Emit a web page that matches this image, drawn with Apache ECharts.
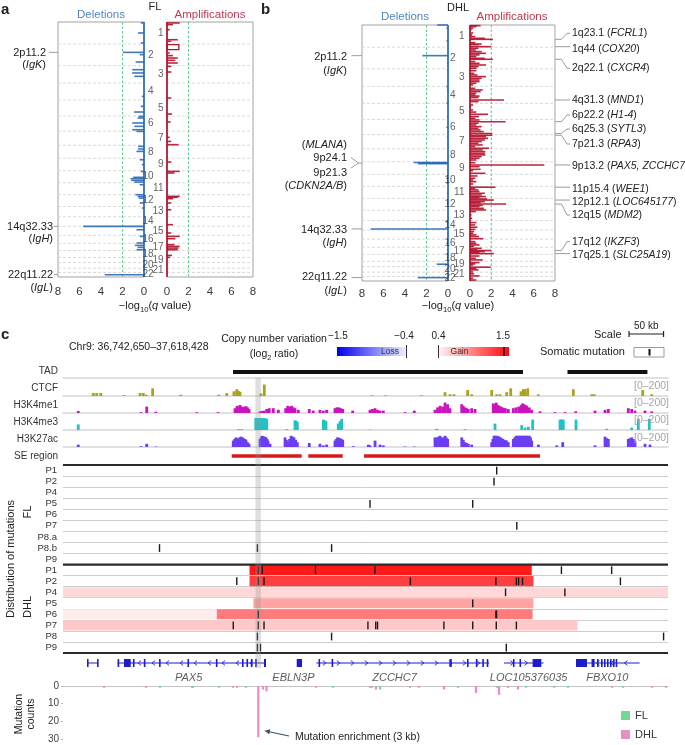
<!DOCTYPE html>
<html>
<head>
<meta charset="utf-8">
<script src="https://cdn.jsdelivr.net/npm/echarts@6.0.0/dist/echarts.min.js"></script>
<style>
html,body{margin:0;padding:0;background:#ffffff;}
#chart{width:685px;height:745px;}
</style>
</head>
<body>
<div id="chart"></div>
<script>
// ===================== DATA =====================
// Panels a/b: genome-wide copy-number significance (-log10 q). Positions are cumulative genome Mb (chr1..22).
const chromosomes = ['1','2','3','4','5','6','7','8','9','10','11','12','13','14','15','16','17','18','19','20','21','22'];
const chromLenMb = [249.3,243.2,198.0,191.2,180.9,171.1,159.1,146.4,141.2,135.5,135.0,133.9,115.2,107.3,102.5,90.4,81.2,78.1,59.1,63.0,48.1,51.3];

const flDeletions = [[10,0.3],[124,0.55],[237,0.3],[343,1.95],[369,0.4],[452,0.78],[539,1.1],[576,1.1],[614,0.9],[840,0.2],[953,0.3],[1017,0.93],[1066,0.5],[1085,0.6],[1141,1.1],[1179,0.9],[1217,1.1],[1236,0.7],[1405,0.55],[1435,0.55],[1462,0.7],[1556,0.4],[1612,0.2],[1688,0.3],[1755,1.0],[1770,1.25],[1789,1.2],[1808,0.9],[1838,0.4],[1951,0.8],[1970,0.6],[1989,0.5],[2045,0.4],[2102,0.2],[2309,5.65],[2347,0.7],[2422,0.4],[2497,0.7],[2524,0.85],[2546,0.6],[2573,0.7],[2855,3.65]];
const flAmplifications = [[11,1.18],[30,0.56],[87,0.25],[200,1.0],[218,0.4],[256,1.1,313],[350,0.25],[380,0.56],[407,1.0],[433,0.78],[463,1.0],[501,0.4],[565,0.4],[859,0.4],[1040,0.47],[1130,0.34],[1303,0.25],[1349,0.4],[1386,1.08],[1582,0.4],[1688,1.18],[1706,0.7],[1970,1.18],[1981,1.0],[1996,0.56],[2045,0.4],[2121,0.4],[2290,0.56],[2384,0.4],[2422,1.18],[2448,0.78],[2516,0.7],[2535,1.18],[2554,1.08],[2573,1.0],[2637,0.47],[2659,0.3]];
const dhlDeletions = [[0,1.0],[37,0.15],[180,0.15],[345,2.38],[431,0.1],[506,0.1],[694,0.15],[731,0.1],[881,0.15],[1031,0.1],[1151,0.15],[1256,0.1],[1548,3.2],[1552,2.75],[1556,2.75],[1560,2.8],[1631,0.1],[1725,0.15],[1781,0.15],[1894,0.1],[2006,0.1],[2213,0.2],[2295,7.2],[2344,0.1],[2456,0.15],[2531,0.1],[2692,1.05],[2843,2.8]];
const dhlAmplifications = [[7.5,1.0],[19,0.6],[37,0.3],[56,0.15],[90,0.3],[112,0.2],[130,0.5],[150,1.4],[161,2.15],[199,0.5],[214,1.1],[221,0.8],[244,2.0],
[262,0.8],[281,0.55],[300,1.1],[319,1.5],[337,0.9],[356,0.6],[375,1.4],[386,2.15],[412,0.5],[431,0.9],[450,1.5],[469,0.8],[487,0.6],
[514,0.6],[544,0.4],[562,0.7],[581,1.5],[600,1.1],[619,0.9],[637,0.9],[656,0.6],[675,0.3],
[712,0.5],[731,1.2],[750,1.0],[769,0.6],[787,0.5],[800,0.9],[817,0.8],[844,3.2],[862,0.8],
[900,0.3],[919,0.1],[956,0.3],[980,0.6],[1005,1.7],[1031,0.85],[1050,0.5],
[1069,0.9],[1088,3.35],[1106,0.8],[1125,0.6],[1144,1.1],[1162,0.8],[1181,1.0],[1200,1.3],[1221,2.1],
[1241,2.1],[1256,1.5],[1275,1.7],[1294,1.4],[1312,1.1],[1331,0.8],[1350,1.2],[1369,0.5],[1387,1.8],
[1406,1.2],[1425,1.45],[1444,1.4],[1462,1.45],[1481,1.1],[1500,0.9],[1519,0.6],
[1550,0.5],[1575,7.0],[1594,0.9],[1624,1.0],[1639,0.3],[1669,1.45],
[1699,0.7],[1725,0.5],[1744,0.3],[1763,0.6],[1789,0.3],
[1825,2.4],[1838,0.5],[1856,0.8],[1875,0.9],[1894,1.4],[1913,1.1],[1931,1.5],[1943,0.9],
[1958,1.6],[1970,2.25],[1988,1.4],[2000,1.0],[2015,3.4],[2030,1.2],[2044,0.9],[2063,1.3],[2081,1.5],
[2100,0.55],[2138,0.15],[2175,0.2],
[2224,0.6],[2250,0.5],[2276,0.7],[2300,0.5],
[2325,0.4],[2344,0.3],[2362,0.6],[2381,0.85],[2405,1.25],
[2438,0.5],[2456,0.6],[2475,0.9],[2490,0.4],
[2513,1.1],[2531,0.7],[2538,2.0],[2550,1.4],[2562,0.9],[2573,2.25],
[2600,0.9],[2625,0.55],[2644,1.2],
[2674,0.9],[2688,0.5],[2700,0.3],[2726,1.95],
[2742,0.6],[2756,0.8],[2779,0.3],
[2800,0.4],[2824,0.9],
[2850,0.3],[2870,0.6]];

// annotations: [genome Mb, cytoband, gene]
const flLeftAnnotations = [[343,'2p11.2','IgK'],[2309,'14q32.33','IgH'],[2855,'22q11.22','IgL']];
const dhlLeftAnnotations = [[345,'2p11.2','IgK'],[2295,'14q32.33','IgH'],[2843,'22q11.22','IgL']];
const dhl9pAnnotations = [[1548,'9p24.1','MLANA'],[1560,'9p21.3','CDKN2A/B']];
const dhlRightAnnotations = [[161,'1q23.1','FCRL1'],[244,'1q44','COX20'],[386,'2q22.1','CXCR4'],[844,'4q31.3','MND1'],[1088,'6p22.2','H1-4'],[1221,'6q25.3','SYTL3'],[1241,'7p21.3','RPA3'],[1575,'9p13.2','PAX5, ZCCHC7'],[1825,'11p15.4','WEE1'],[1970,'12p12.1','LOC645177'],[2015,'12q15','MDM2'],[2538,'17q12','IKZF3'],[2573,'17q25.1','SLC25A19']];

// Panel c: chr9 region, positions in kb from region start
const regionStartBp = 36742650, regionEndBp = 37618428;
const tadSegments = [[246.1,665.9],[730.3,846.0]];
const seRegions = [[244.2,345.5],[355.1,404.9],[435.7,690.5]];
const highlightRegion = [[278.5,286.5]];
const ctcfSignal = [[43.9,35],[48.8,35],[54.6,35],[88.3,10],[111.5,35],[116.2,35],[120.2,15],[129.8,90],[170.4,15],[225.4,15],[237.0,35],[247.5,55],[251.5,80],[253.8,60],[256.2,50],[286.6,30],[291.4,135],[446.9,8],[467.1,8],[519.3,8],[553.0,45],[560.2,20],[566.0,20],[585.8,70],[591.6,20],[620.6,70],[627.8,20],[632.6,20],[642.3,45],[648.1,90],[663.0,55],[666.3,80],[668.8,80],[672.7,90],[688.1,20],[738.7,80],[765.3,20],[769.1,20],[839.2,70],[852.2,20]];
const h3k4me1Signal = [[22.1,25],[112.9,10],[121.2,80],[134.2,15],[193.5,10],[224.4,10],[249.0,60],[251.9,90],[254.0,75],[256.2,100],[258.4,80],[260.6,70],[262.8,80],[264.9,85],[267.1,70],[269.3,50],[285.2,20],[288.1,25],[291.0,30],[294.9,50],[298.6,60],[304.4,60],[311.7,40],[322.4,60],[325.3,90],[328.2,80],[331.1,90],[333.5,70],[335.8,60],[340.6,40],[356.5,50],[362.3,30],[372.0,40],[376.8,30],[381.7,40],[393.7,60],[396.5,70],[399.2,70],[402.0,60],[404.9,50],[419.4,30],[444.4,40],[448.0,50],[451.7,60],[455.3,40],[458.9,30],[463.7,30],[495.1,10],[508.5,30],[538.5,40],[542.2,70],[545.8,90],[549.4,80],[553.0,130],[556.7,110],[560.2,60],[577.2,110],[579.5,90],[581.9,70],[584.3,60],[586.7,50],[591.6,60],[596.4,50],[622.9,120],[625.0,110],[627.2,130],[629.4,100],[631.6,90],[633.8,80],[635.9,70],[638.1,60],[640.3,60],[644.6,50],[651.9,60],[655.8,70],[659.7,80],[663.4,100],[665.3,120],[667.3,110],[669.2,100],[671.2,90],[675.0,70],[678.5,40],[690.5,20],[712.2,10],[726.7,10],[742.2,20],[770.1,30],[784.6,40],[789.4,50],[818.3,60],[823.2,50],[828.0,30],[842.5,30],[852.2,20]];
const h3k4me3Signal = [[22.1,70],[253.8,10],[258.7,10],[279.0,150],[280.4,150],[282.0,150],[283.7,150],[285.5,150],[287.3,150],[289.2,150],[291.0,150],[292.9,145],[294.9,140],[323.8,10],[335.8,120],[337.5,115],[339.2,100],[376.8,130],[378.8,120],[380.7,110],[398.5,80],[401.0,110],[403.4,140],[444.4,5],[541.0,15],[581.9,10],[625.4,80],[664.0,60],[668.8,30],[673.6,40],[679.9,130],[719.5,130],[721.8,130],[724.2,130],[742.6,130],[787.1,15],[823.2,30],[832.8,140],[848.7,140]];
const h3k27acSignal = [[22.1,30],[112.9,10],[121.2,40],[134.2,5],[246.5,80],[248.5,100],[250.4,120],[252.2,110],[254.0,100],[255.9,120],[257.7,130],[259.5,120],[261.3,110],[263.1,100],[264.9,90],[267.1,60],[269.3,40],[285.2,100],[286.7,120],[288.1,140],[289.6,135],[291.0,130],[292.5,125],[293.9,120],[295.4,100],[296.8,80],[299.7,40],[321.4,120],[323.5,90],[325.7,60],[327.9,100],[330.1,140],[332.2,130],[334.4,120],[336.8,90],[339.2,60],[356.5,50],[372.0,40],[376.8,20],[381.7,30],[393.7,80],[395.5,100],[397.3,120],[399.2,115],[401.0,110],[402.9,100],[404.9,90],[420.2,10],[442.0,30],[444.4,20],[451.7,80],[458.9,30],[463.7,20],[495.1,5],[508.5,5],[538.5,120],[540.4,110],[542.2,120],[544.0,130],[545.8,140],[547.6,120],[549.4,110],[551.2,120],[553.0,140],[554.8,120],[556.7,100],[577.2,120],[579.5,90],[581.9,60],[584.3,50],[586.7,40],[591.6,30],[620.6,60],[622.2,100],[623.9,140],[625.7,140],[627.5,140],[629.4,135],[631.2,130],[633.0,120],[634.8,110],[636.6,100],[638.4,90],[640.2,85],[642.0,80],[644.6,60],[651.9,100],[653.9,120],[655.8,140],[657.8,140],[659.7,140],[661.6,140],[663.4,140],[665.3,140],[667.3,140],[669.2,140],[671.2,140],[673.1,140],[675.0,140],[676.8,120],[678.5,80],[688.1,30],[714.7,20],[723.4,60],[770.1,20],[784.6,130],[787.0,110],[789.4,100],[818.3,100],[820.8,110],[823.2,120],[825.6,100],[828.0,80],[842.5,40],[849.7,30]];

const flRows = ['P1','P2','P4','P5','P6','P7','P8.a','P8.b','P9'];
const dhlRows = ['P1','P2','P4','P5','P6','P7','P8','P9'];
const mutationsFL = [['P1',627.8],['P2',623.9],['P5',444.4],['P5',593.1],['P7',656.9],['P8.b',139.7],['P8.b',281.4],['P8.b',388.8]];
const mutationsDHL = [['P1',282.7],['P1',288.4],['P1',365.5],['P1',451.5],['P1',721.5],['P1',794.2],
['P2',251.6],['P2',282.7],['P2',291.0],['P2',502.8],['P2',626.7],['P2',656.3],['P2',659.5],['P2',665.2],['P2',806.9],
['P4',640.6],['P4',726.5],['P5',593.1],['P6',282.7],['P6',626.7],['P6',627.6],
['P7',246.5],['P7',282.7],['P7',291.0],['P7',441.4],['P7',452.7],['P7',455.3],['P7',551.4],['P7',593.1],['P7',627.2],['P7',656.3],
['P8',281.4],['P8',388.8],['P8',869.4],['P9',281.4],['P9',285.9],['P9',641.7]];
// DHL copy-number segments: [patient, start kb, end kb, log2 ratio]
const cnvDHL = [['P1',270.0,678.5,1.39],['P2',270.0,681.0,1.22],['P4',0,875.8,0.53],['P5',275.6,681.0,0.77],['P6',0,222.6,0.44],['P6',222.6,679.8,0.95],['P7',0,744.8,0.6]];

// gene models
const geneSpans = [[34.7,50.7,1],[79.0,293.9,-1],[366.7,616.7,1],[638.4,695.6,1],[742.6,834.7,-1]];
const geneExons = [[34.7,36.3],[49.3,50.7],[79.0,80.0],[88.3,98.0],[101.2,102.5],[117.0,118.2],[139.0,140.2],[180.2,181.4],[221.3,222.5],[259.1,260.3],[265.6,266.8],[271.9,273.1],[278.2,279.4],[291.0,293.9],[338.3,346.0],[369.9,371.3],[388.8,390.0],[559.6,562.8],[584.8,586.2],[597.6,598.8],[607.0,608.2],[613.4,614.6],[651.3,652.5],[660.8,662.0],[679.8,692.4],[742.6,758.5],[765.1,766.3],[767.2,768.4],[773.0,774.2],[778.8,780.0],[783.1,784.3],[787.5,788.7],[791.8,793.0],[796.2,797.4],[800.0,801.2]];
const geneNames = [['PAX5',181.8],['EBLN3P',333.5],['ZCCHC7',479.9],['LOC105376035',674.0],['FBXO10',787.9]];

// mutation counts per 3-kb bin [kb, count]
const countDHL = [[59.4,1],[120.2,1],[188.2,1],[246.1,1],[251.9,1],[282.7,29],[289.5,2],[294.6,3],[366.2,1],[444.4,1],[453.1,2],[502.3,1],[515.3,1],[551.5,2],[597.9,4],[631.2,5],[644.2,1],[658.7,2],[794.8,1],[852.7,1],[872.9,1]];
const countFL = [[140.4,1],[186.7,1],[225.8,1],[264.9,1],[390.9,1],[447.3,1],[458.9,2],[571.8,1],[628.3,1],[670.2,1],[710.8,1],[731.0,1],[810.7,1]];

// ===================== CHART =====================
const chart = echarts.init(document.getElementById('chart'), null, {width:685, height:745});
const FONT = '"Liberation Sans", Arial, Helvetica, sans-serif';
const NARROW = '"Liberation Sans Narrow", "Arial Narrow", "Liberation Sans", sans-serif';
const DEL_BLUE = '#2f6db5', AMP_RED = '#b3142e', GENE_BLUE = '#1c1cc8';

const chromStart = []; let genomeLen = 0;
chromLenMb.forEach(l => { chromStart.push(genomeLen); genomeLen += l; });
const chromEnds = chromStart.slice(1);
const chromMid = chromStart.map((s, i) => s + chromLenMb[i] / 2);
const REGION_KB = (regionEndBp - regionStartBp) / 1000;

const grids = [], xAxes = [], yAxes = [], series = [];
function addGrid(g, xa, ya) {
  const i = grids.length;
  grids.push(g);
  xAxes.push(Object.assign({gridIndex:i}, xa));
  yAxes.push(Object.assign({gridIndex:i}, ya));
  return i;
}
function hbar(color) {
  return function (params, api) {
    const p = api.value(0), v = api.value(1), e = api.value(2);
    const a = api.coord([0, p]), b = api.coord([v, p]);
    const x0 = Math.min(a[0], b[0]), w = Math.max(Math.abs(b[0] - a[0]), 0.8);
    if (isFinite(e) && e > p) {
      const c = api.coord([v, e]);
      return {type:'rect', shape:{x:x0, y:a[1], width:w, height:c[1]-a[1]}, style:{fill:'none', stroke:color, lineWidth:1.3}};
    }
    return {type:'rect', shape:{x:x0, y:a[1]-0.8, width:w, height:1.6}, style:{fill:color, opacity:0.92}};
  };
}
function vline(color, dash, w) {
  return function (params, api) {
    const cs = params.coordSys; const x = api.coord([api.value(0), 0])[0];
    return {type:'line', shape:{x1:x, y1:cs.y, x2:x, y2:cs.y+cs.height}, style:{stroke:color, lineWidth:w, lineDash:dash}};
  };
}

// ---- panels a / b ----
const cnvPanels = [
  {data:flDeletions, grid:{left:58, top:22, width:86, height:255}, inverse:true, color:DEL_BLUE, margin:9},
  {data:flAmplifications, grid:{left:167, top:22, width:86, height:255}, inverse:false, color:AMP_RED, margin:9, chromDist:[3,13]},
  {data:dhlDeletions, grid:{left:362, top:25, width:86, height:256}, inverse:true, color:DEL_BLUE, margin:7},
  {data:dhlAmplifications, grid:{left:470, top:25, width:85, height:256}, inverse:false, color:AMP_RED, margin:7, chromDist:[5,14]}
];
const cnvGridIdx = cnvPanels.map(p => {
  const gi = addGrid(Object.assign({show:true, borderColor:'#a3a3a3', borderWidth:1, backgroundColor:'transparent'}, p.grid),
    {type:'value', min:0, max:8, interval:2, inverse:p.inverse, axisLine:{show:false}, axisTick:{show:false}, splitLine:{show:false},
     axisLabel:{fontSize:11.5, color:'#3a3a3a', margin:p.margin, fontFamily:FONT}},
    {type:'value', min:0, max:genomeLen, inverse:true, show:false});
  series.push({type:'custom', xAxisIndex:gi, yAxisIndex:gi, z:1, silent:true, data:chromEnds.map(v => [0, v]),
    renderItem:(params, api) => { const cs = params.coordSys; const y = api.coord([0, api.value(1)])[1];
      return {type:'line', shape:{x1:cs.x, y1:y, x2:cs.x+cs.width, y2:y}, style:{stroke:'#cfcfcf', lineWidth:0.8, lineDash:[3,2]}}; }});
  series.push({type:'custom', xAxisIndex:gi, yAxisIndex:gi, z:2, silent:true, data:[[2,0]], renderItem:vline('#5fcb8f', [2.5,2], 1.1)});
  series.push({type:'custom', xAxisIndex:gi, yAxisIndex:gi, z:3, silent:true, dimensions:['pos','q','end'], encode:{x:1, y:0}, data:p.data, renderItem:hbar(p.color)});
  series.push({type:'custom', xAxisIndex:gi, yAxisIndex:gi, z:4, silent:true, data:[[0,0]], renderItem:vline(p.color, null, 1.7)});
  if (p.chromDist) {
    series.push({type:'scatter', xAxisIndex:gi, yAxisIndex:gi, z:5, silent:true, symbolSize:1, itemStyle:{color:'rgba(0,0,0,0)'},
      data:chromMid.map((m, i) => ({value:[0, m], label:{distance: i % 2 === 0 ? p.chromDist[0] : p.chromDist[1]}})),
      label:{show:true, position:'left', formatter:prm => chromosomes[prm.dataIndex], fontSize:10, color:'#3a3a3a', fontFamily:FONT}});
  }
  return gi;
});

// ---- panel c ----
function trackX(sep) {
  return {type:'value', min:0, max:REGION_KB, axisLine:{show:sep, onZero:false, lineStyle:{color:'#d6d6d6', width:1.5}},
          axisTick:{show:false}, axisLabel:{show:false}, splitLine:{show:false}};
}
const unitY = {type:'value', min:0, max:1, show:false};
function segRender(color, h) {
  return function (params, api) {
    const s = api.coord([api.value(0), 0.5]), e = api.coord([api.value(1), 0.5]);
    return {type:'rect', shape:{x:s[0], y:s[1]-h/2, width:e[0]-s[0], height:h}, style:{fill:color}};
  };
}
const TL = 63, TW = 605;
const gTAD = addGrid({left:TL, top:366, width:TW, height:12}, trackX(true), unitY);
series.push({type:'custom', xAxisIndex:gTAD, yAxisIndex:gTAD, silent:true, data:tadSegments, renderItem:segRender('#111', 4.2)});

const trackDefs = [
  {data:ctcfSignal, color:'#aaa21a', top:379, height:17},
  {data:h3k4me1Signal, color:'#c914be', top:397, height:16},
  {data:h3k4me3Signal, color:'#22c2c4', top:414, height:16},
  {data:h3k27acSignal, color:'#6b3ef2', top:431, height:16}
];
trackDefs.forEach(t => {
  const gi = addGrid({left:TL, top:t.top, width:TW, height:t.height}, trackX(true), {type:'value', min:0, max:200, show:false});
  series.push({type:'bar', xAxisIndex:gi, yAxisIndex:gi, silent:true, barWidth:2.8, itemStyle:{color:t.color}, data:t.data});
});
const gSE = addGrid({left:TL, top:451, width:TW, height:10}, trackX(false), unitY);
series.push({type:'custom', xAxisIndex:gSE, yAxisIndex:gSE, silent:true, data:seRegions, renderItem:segRender('#d81a1a', 3.6)});

const rowKeys = flRows.map(r => 'FL|' + r).concat(dhlRows.map(r => 'DHL|' + r));
const gMut = addGrid({left:TL, top:465, width:TW, height:188}, trackX(false),
  {type:'category', data:rowKeys, inverse:true, axisLine:{show:false}, axisTick:{show:false},
   splitLine:{show:true, interval:0, lineStyle:{color:'#cdcdcd', width:1}},
   axisLabel:{interval:0, fontSize:9.5, color:'#333', margin:6, fontFamily:NARROW, formatter:v => v.split('|')[1]}});
function gainColor(r) {
  const t = Math.max(0, Math.min(1, (r - 0.4) / 1.1));
  const g = Math.round(246 * (1 - t));
  return 'rgb(255,' + g + ',' + g + ')';
}
series.push({type:'custom', xAxisIndex:gMut, yAxisIndex:gMut, z:2, silent:true,
  dimensions:[{name:'row', type:'ordinal'}, 'start', 'end', 'ratio'], encode:{y:0, x:[1,2]},
  data:cnvDHL.map(d => ['DHL|' + d[0], d[1], d[2], d[3]]),
  renderItem:(params, api) => {
    const row = api.value(0); const s = api.coord([api.value(1), row]), e = api.coord([api.value(2), row]);
    const h = api.size([0, 1])[1];
    return {type:'rect', shape:{x:s[0], y:s[1]-h/2+0.5, width:e[0]-s[0], height:h-1}, style:{fill:gainColor(api.value(3))}};
  }});
series.push({type:'custom', xAxisIndex:gMut, yAxisIndex:gMut, z:4, silent:true,
  dimensions:[{name:'row', type:'ordinal'}, 'pos'], encode:{y:0, x:1},
  data:mutationsFL.map(d => ['FL|' + d[0], d[1]]).concat(mutationsDHL.map(d => ['DHL|' + d[0], d[1]])),
  renderItem:(params, api) => {
    const c = api.coord([api.value(1), api.value(0)]); const h = api.size([0, 1])[1];
    return {type:'line', shape:{x1:c[0], y1:c[1]-h*0.34, x2:c[0], y2:c[1]+h*0.36}, style:{stroke:'#1a1a1a', lineWidth:1.4}};
  }});
const groupBoundaries = [0, flRows.length, flRows.length + dhlRows.length];
series.push({type:'custom', xAxisIndex:gMut, yAxisIndex:gMut, z:5, silent:true, data:groupBoundaries.map(b => [0, b]),
  renderItem:(params, api) => {
    const cs = params.coordSys; const y = cs.y + api.value(1) * cs.height / rowKeys.length;
    return {type:'line', shape:{x1:cs.x, y1:y, x2:cs.x+cs.width, y2:y}, style:{stroke:'#2a2a2a', lineWidth:2.2}};
  }});

const gGene = addGrid({left:TL, top:655, width:TW, height:16}, trackX(false), unitY);
series.push({type:'custom', xAxisIndex:gGene, yAxisIndex:gGene, silent:true, data:geneSpans,
  renderItem:(params, api) => {
    const s = api.coord([api.value(0), 0.5]), e = api.coord([api.value(1), 0.5]); const d = api.value(2);
    const ch = [{type:'line', shape:{x1:s[0], y1:s[1], x2:e[0], y2:e[1]}, style:{stroke:GENE_BLUE, lineWidth:1}}];
    for (let x = s[0] + 8; x < e[0] - 5; x += 14) {
      ch.push({type:'polyline', shape:{points:[[x - 1.5*d, s[1]-2.4], [x + 1.5*d, s[1]], [x - 1.5*d, s[1]+2.4]]}, style:{stroke:GENE_BLUE, lineWidth:0.9, fill:null}});
    }
    return {type:'group', children:ch};
  }});
series.push({type:'custom', xAxisIndex:gGene, yAxisIndex:gGene, silent:true, data:geneExons,
  renderItem:(params, api) => {
    const s = api.coord([api.value(0), 0.5]), e = api.coord([api.value(1), 0.5]);
    return {type:'rect', shape:{x:s[0], y:s[1]-4, width:Math.max(e[0]-s[0], 1.6), height:8}, style:{fill:GENE_BLUE}};
  }});
series.push({type:'scatter', xAxisIndex:gGene, yAxisIndex:gGene, silent:true, symbolSize:1, itemStyle:{color:'rgba(0,0,0,0)'},
  data:geneNames.map(g => ({value:[g[1], 0], name:g[0]})),
  label:{show:true, position:'bottom', distance:1, formatter:p => p.name, fontSize:11, fontStyle:'italic', color:'#333', fontFamily:FONT}});

const gCount = addGrid({left:TL, top:686, width:TW, height:53},
  {type:'value', min:0, max:REGION_KB, position:'top', axisLine:{show:true, onZero:false, lineStyle:{color:'#c4c4c4', width:1}}, axisTick:{show:false}, axisLabel:{show:false}, splitLine:{show:false}},
  {type:'value', min:0, max:30, interval:10, inverse:true, axisLine:{show:false}, axisTick:{show:true, length:2, lineStyle:{color:'#bbb'}}, splitLine:{show:false},
   axisLabel:{fontSize:10, color:'#444', margin:4, fontFamily:FONT}});
series.push({name:'DHL', type:'bar', xAxisIndex:gCount, yAxisIndex:gCount, barWidth:2.2, barGap:'-100%', itemStyle:{color:'#ea8cc8'}, data:countDHL});
series.push({name:'FL', type:'bar', xAxisIndex:gCount, yAxisIndex:gCount, barWidth:2.2, barGap:'-100%', itemStyle:{color:'#74d894'}, data:countFL});

const gHL = addGrid({left:TL, top:378, width:TW, height:290}, trackX(false), unitY);
series.push({type:'custom', xAxisIndex:gHL, yAxisIndex:gHL, z:20, silent:true, data:highlightRegion,
  renderItem:(params, api) => {
    const cs = params.coordSys; const s = api.coord([api.value(0), 0]), e = api.coord([api.value(1), 0]);
    return {type:'rect', shape:{x:s[0], y:cs.y, width:e[0]-s[0], height:cs.height}, style:{fill:'rgba(150,150,150,0.3)'}};
  }});

chart.setOption({
  animation:false,
  backgroundColor:'#ffffff',
  textStyle:{fontFamily:FONT},
  grid:grids, xAxis:xAxes, yAxis:yAxes, series:series,
  legend:{data:['FL','DHL'], left:616, top:705, orient:'vertical', itemWidth:9, itemHeight:9, itemGap:8, icon:'rect', selectedMode:false,
          textStyle:{fontSize:11, color:'#333', fontFamily:FONT}}
});

// ===================== ANNOTATIONS (graphic) =====================
const G = [];
function txt(x, y, text, o) {
  o = o || {};
  const sz = o.size || 11;
  G.push({type:'text', x:x, y:y, rotation:o.rot || 0, z:50, silent:true,
    style:{text:text, fill:o.color || '#222', fontSize:sz, fontFamily:o.family || FONT, fontWeight:o.bold ? 'bold' : 'normal',
      fontStyle:o.italic ? 'italic' : 'normal', align:o.align || 'left', verticalAlign:'middle', lineHeight:o.lh,
      rich:{i:{fontStyle:'italic', fontSize:sz, fontFamily:FONT, fill:o.color || '#222'},
            s:{fontSize:sz*0.7, fontFamily:FONT, fill:o.color || '#222', verticalAlign:'bottom'},
            n:{fontSize:sz, fontFamily:FONT, fill:o.color || '#222'}}}});
}
function pl(pts, color, w, dash) { G.push({type:'polyline', z:50, silent:true, shape:{points:pts}, style:{stroke:color, lineWidth:w || 1, fill:null, lineDash:dash}}); }
function rc(x, y, w, h, style) { G.push({type:'rect', z:49, silent:true, shape:{x:x, y:y, width:w, height:h}, style:style}); }
const py = (gi, mb) => chart.convertToPixel({gridIndex:gi}, [0, mb])[1];
const CONN = '#9c9c9c';

// panel a
txt(1, 10, 'a', {size:15, bold:true});
txt(155, 7, 'FL', {size:11, align:'center'});
txt(101, 15, 'Deletions', {size:11.5, align:'center', color:'#4f86c6'});
txt(210, 15, 'Amplifications', {size:11.5, align:'center', color:'#c8374d'});
txt(155, 306, '{n|−log}{s|10}{n|(}{i|q}{n| value)}', {size:11, align:'center', lh:15});
const aLayout = [{rx:46, y1:52.5, y2:64.5, lx:49}, {rx:53, y1:226.5, y2:239, lx:54}, {rx:53, y1:275, y2:287.5, lx:54}];
flLeftAnnotations.forEach((a, k) => {
  const L = aLayout[k]; const y = py(cnvGridIdx[0], a[0]);
  txt(L.rx, L.y1, a[1], {size:11, align:'right'});
  txt(L.rx, L.y2, '({i|' + a[2] + '})', {size:11, align:'right'});
  pl([[L.lx, y], [58, y]], CONN, 1);
});

// panel b
txt(261, 10, 'b', {size:15, bold:true});
txt(458, 8, 'DHL', {size:11, align:'center'});
txt(405, 17, 'Deletions', {size:11.5, align:'center', color:'#4f86c6'});
txt(512, 17, 'Amplifications', {size:11.5, align:'center', color:'#c8374d'});
txt(458, 306, '{n|−log}{s|10}{n|(}{i|q}{n| value)}', {size:11, align:'center', lh:15});
const bLeftLayout = [{y1:57, y2:71}, {y1:229.5, y2:243}, {y1:277, y2:290.5}];
dhlLeftAnnotations.forEach((a, k) => {
  const L = bLeftLayout[k]; const y = py(cnvGridIdx[2], a[0]);
  txt(347, L.y1, a[1], {size:11, align:'right'});
  txt(347, L.y2, '({i|' + a[2] + '})', {size:11, align:'right'});
  pl([[351.5, y], [362, y]], CONN, 1);
});
(function () {
  const yt = py(cnvGridIdx[2], (dhl9pAnnotations[0][0] + dhl9pAnnotations[1][0]) / 2);
  txt(347, 145, '({i|' + dhl9pAnnotations[0][2] + '})', {size:11, align:'right'});
  txt(347, 158, dhl9pAnnotations[0][1], {size:11, align:'right'});
  txt(347, 172.5, dhl9pAnnotations[1][1], {size:11, align:'right'});
  txt(347, 186, '({i|' + dhl9pAnnotations[1][2] + '})', {size:11, align:'right'});
  pl([[351, 157.5], [358.5, yt], [351, 168]], CONN, 1);
  pl([[358.5, yt], [362, yt]], CONN, 1);
})();
const bRightLabelY = [33.3, 49.3, 68.3, 100, 115, 129, 144, 165.7, 189, 201.7, 215, 241.7, 255];
dhlRightAnnotations.forEach((a, k) => {
  const y = py(cnvGridIdx[3], a[0]); const ly = bRightLabelY[k];
  if (Math.abs(y - ly) > 3) pl([[555, y], [561.5, y], [567, ly], [570, ly]], CONN, 1);
  else pl([[555, y], [570, y]], CONN, 1);
  txt(572, ly, a[1] + ' ({i|' + a[2] + '})', {size:10.5});
});

// panel c headers & legend
txt(1, 335, 'c', {size:15, bold:true});
txt(69, 347, 'Chr9: 36,742,650–37,618,428', {size:10.5});
txt(274, 339, 'Copy number variation', {size:10.5, align:'center'});
txt(274, 354, '{n|(log}{s|2}{n| ratio)}', {size:10.5, align:'center', lh:14});
rc(337, 347, 69, 9, {fill:new echarts.graphic.LinearGradient(0, 0, 1, 0, [{offset:0, color:'#0000f0'}, {offset:1, color:'#eeeeff'}])});
rc(439, 347, 70, 9, {fill:new echarts.graphic.LinearGradient(0, 0, 1, 0, [{offset:0, color:'#fff2f2'}, {offset:1, color:'#ff0a0a'}])});
txt(390, 351.5, 'Loss', {size:8.5, align:'center', color:'#333'});
txt(459.5, 351.5, 'Gain', {size:8.5, align:'center', color:'#333'});
pl([[406.5, 345], [406.5, 358]], '#333', 1);
pl([[438.5, 345], [438.5, 358]], '#333', 1);
pl([[504, 347], [504, 356]], '#111', 1.4);
txt(338, 336, '−1.5', {size:10, align:'center'});
txt(404, 336, '−0.4', {size:10, align:'center'});
txt(438.5, 336, '0.4', {size:10, align:'center'});
txt(503, 336, '1.5', {size:10, align:'center'});
const pxPerKb = TW / REGION_KB;
txt(594, 335, 'Scale', {size:11});
pl([[629, 334], [629 + 50 * pxPerKb, 334]], '#222', 1.2);
pl([[629, 331], [629, 337]], '#222', 1.2);
pl([[629 + 50 * pxPerKb, 331], [629 + 50 * pxPerKb, 337]], '#222', 1.2);
txt(629 + 25 * pxPerKb, 326, '50 kb', {size:10, align:'center'});
txt(540, 352, 'Somatic mutation', {size:11});
rc(634, 347.5, 30, 9.5, {fill:'#fff', stroke:'#9a9a9a', lineWidth:1});
pl([[649.5, 349], [649.5, 355.5]], '#111', 2);

const trackLabels = [['TAD', 371.5], ['CTCF', 388], ['H3K4me1', 405], ['H3K4me3', 422], ['H3K27ac', 439.5], ['SE region', 456]];
trackLabels.forEach(t => txt(58, t[1], t[0], {size:10, align:'right', family:NARROW, color:'#333'}));
[386.5, 403, 420.5, 438].forEach(y => txt(669, y, '[0–200]', {size:10.5, align:'right', color:'#a6a6a6'}));

txt(11, 559, 'Distribution of mutations', {size:11, align:'center', rot:Math.PI / 2});
txt(28, 512, 'FL', {size:11, align:'center', rot:Math.PI / 2});
txt(28, 607, 'DHL', {size:11, align:'center', rot:Math.PI / 2});
txt(19, 714, 'Mutation', {size:10.5, align:'center', rot:Math.PI / 2});
txt(31.5, 714, 'counts', {size:10.5, align:'center', rot:Math.PI / 2});

txt(295, 737, 'Mutation enrichment (3 kb)', {size:10.5});
pl([[289, 736], [268, 731.5]], '#3d4f63', 1.2);
G.push({type:'polygon', z:50, silent:true, shape:{points:[[264.5, 730.8], [270.2, 729.2], [269.3, 734.3]]}, style:{fill:'#3d4f63'}});

chart.setOption({graphic:{elements:G}});
</script>
</body>
</html>
